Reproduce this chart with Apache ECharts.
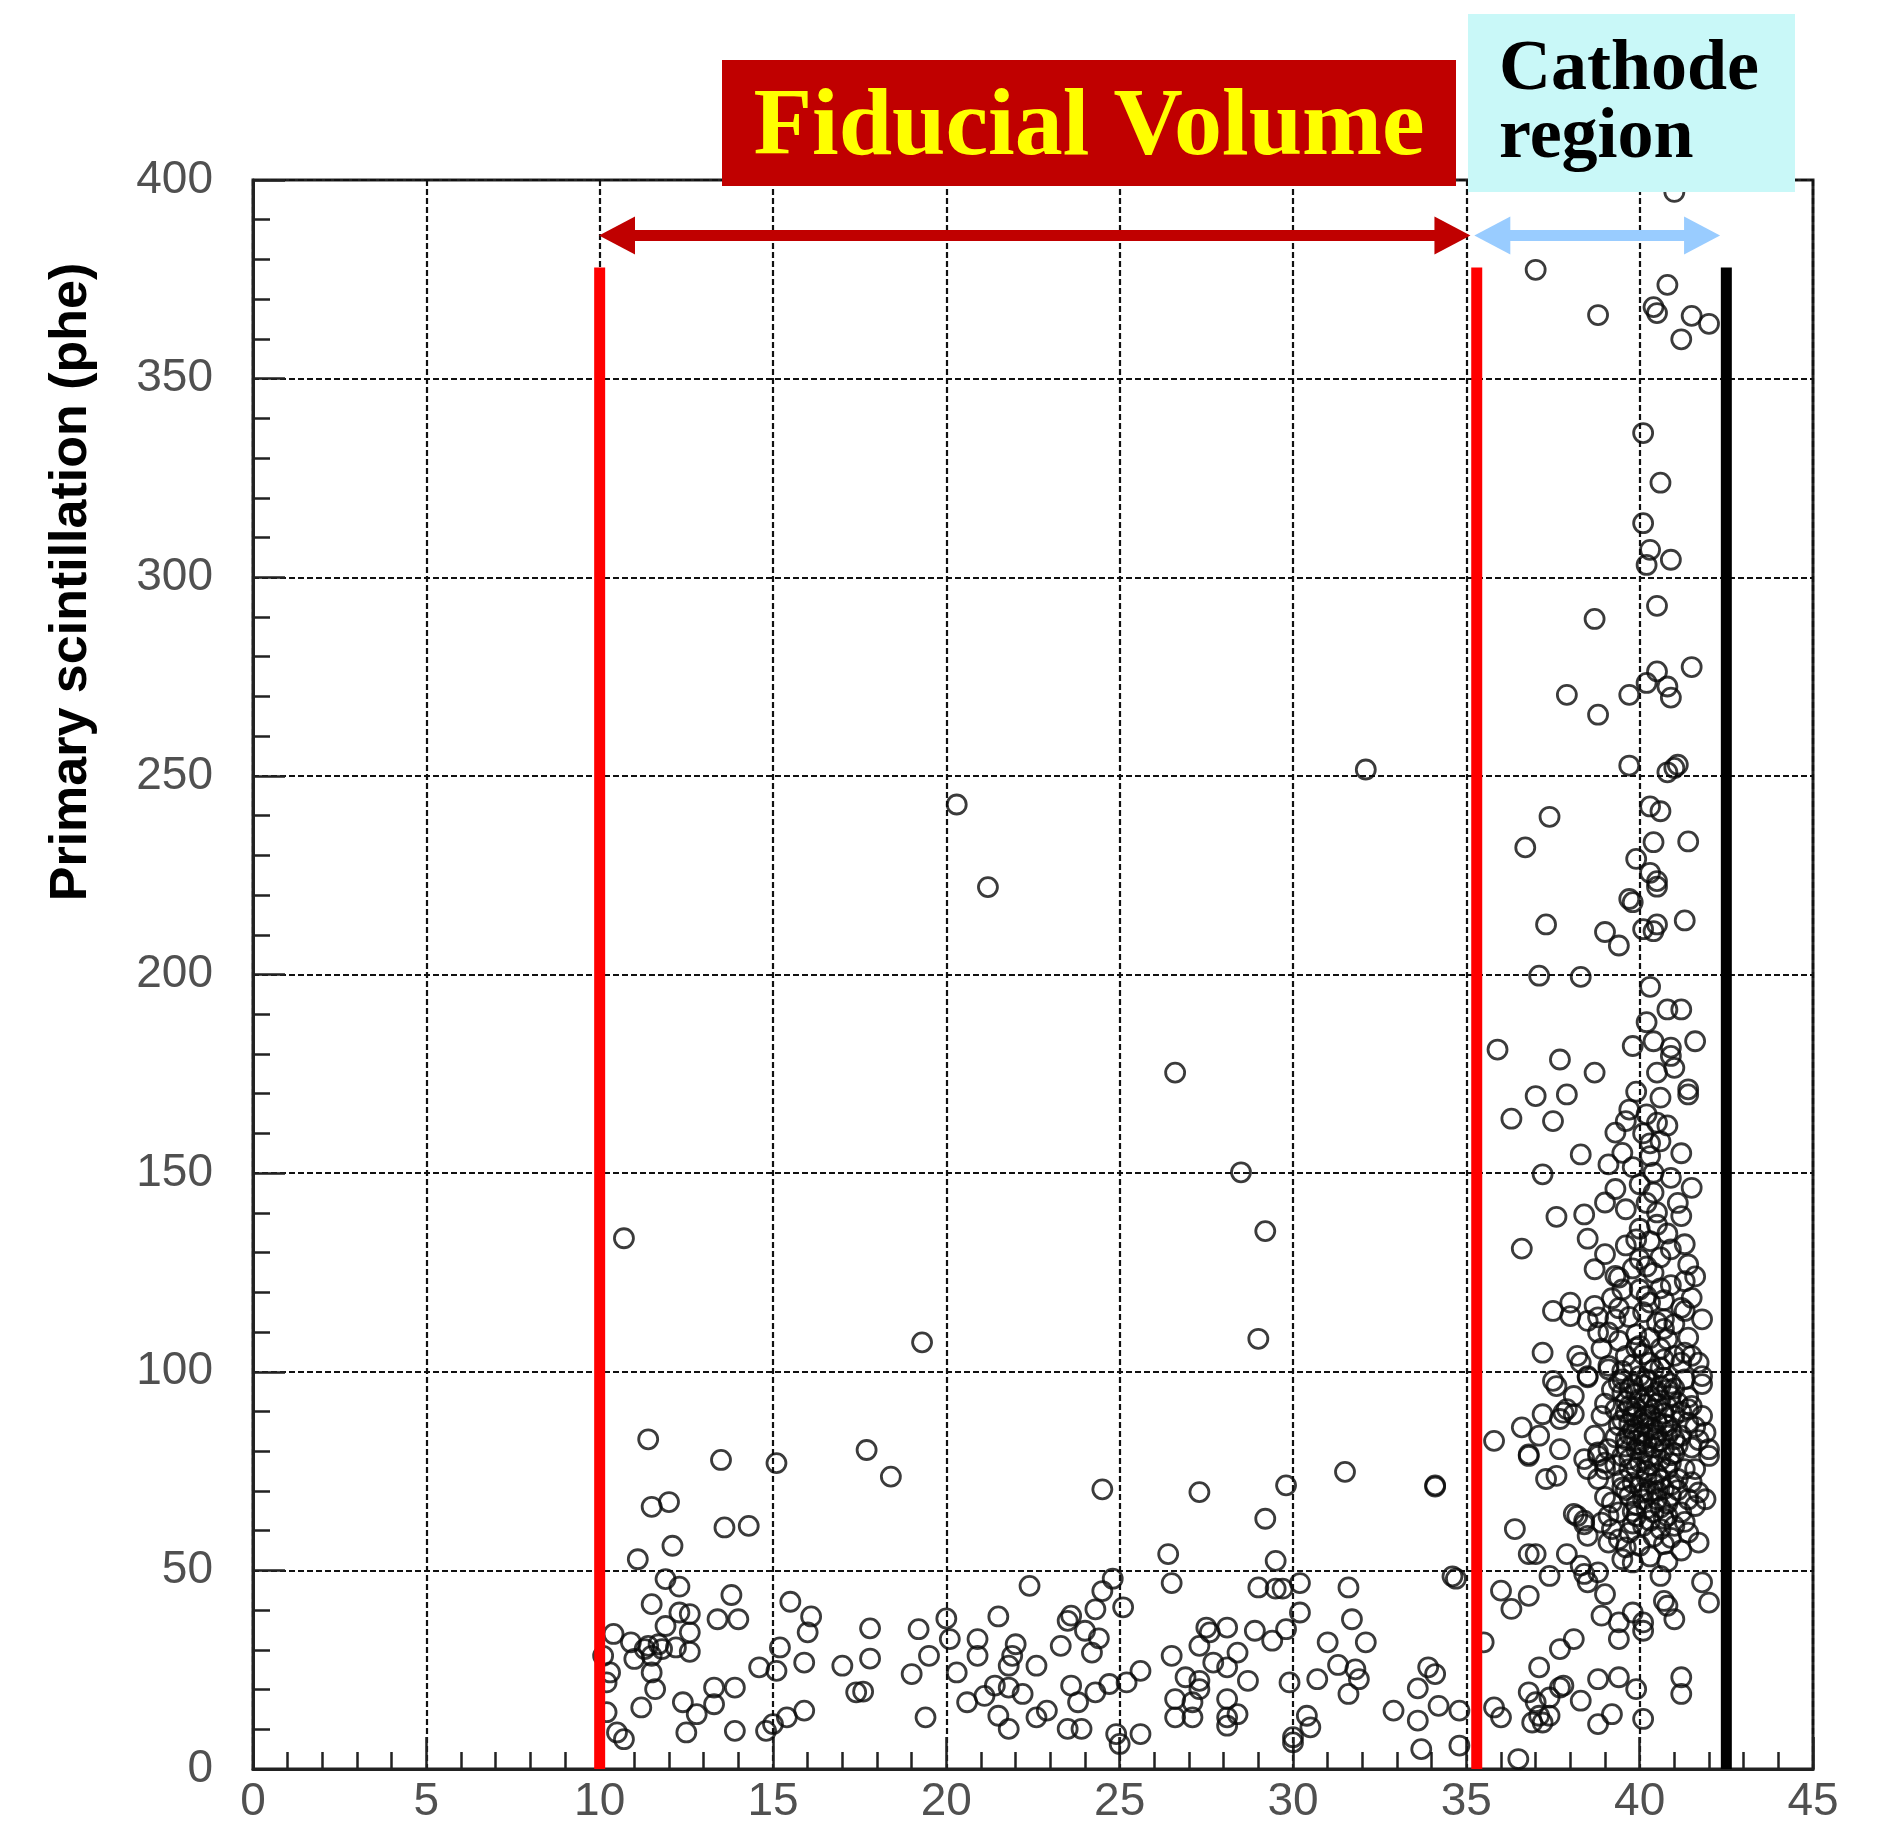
<!DOCTYPE html>
<html>
<head>
<meta charset="utf-8">
<script src="https://cdn.jsdelivr.net/npm/echarts@6/dist/echarts.min.js"></script>
<style>html,body{margin:0;padding:0;background:#fff;}#c{width:1880px;height:1825px;}</style>
</head>
<body>
<div id="c"></div>
<script>
// ---- axis setup ----
const xTicks = [0, 5, 10, 15, 20, 25, 30, 35, 40, 45];
const yTicks = [0, 50, 100, 150, 200, 250, 300, 350, 400];
const yTitle = 'Primary scintillation (phe)';

// ---- region boundaries (x in axis units, y in phe) ----
const fiducialBounds = [10, 35.3];
const cathodeEdge = 42.5;
const boundaryTop = 378;
const arrowY = 386;
// arrow shafts (heads extend beyond these ends)
const fiducialArrow = [10.5, 34.6];
const cathodeArrow = [35.75, 41.8];

// ---- events inside the fiducial volume [x, phe] ----
const fiducialPoints = [
  [11.4,83.0],[13.5,77.8],[15.1,77.0],[17.7,80.3],[18.4,73.6],[11.5,66.0],[12.0,67.2],[13.6,60.8],[14.3,61.2],
  [12.1,56.2],[11.1,52.8],[11.9,47.8],[12.3,45.9],[13.8,43.8],[11.5,41.5],[15.5,42.1],[16.1,38.4],[16.0,34.4],
  [13.4,37.7],[14.0,37.7],[12.3,39.4],[12.6,39.0],[11.9,36.0],[12.6,34.4],[10.4,34.0],[10.9,31.9],[11.4,31.0],
  [11.7,31.4],[12.2,30.6],[12.6,29.5],[11.0,27.7],[11.5,28.5],[11.5,24.3],[10.1,28.5],[15.2,30.6],[14.6,25.6],
  [15.1,24.7],[15.9,26.8],[17.8,35.4],[17.8,27.8],[17.0,26.0],[19.2,35.2],[20.0,37.9],[20.1,32.7],[19.5,28.5],
  [19.0,23.9],[20.3,24.3],[20.9,32.7],[20.9,28.5],[21.5,38.4],[22.0,31.4],[21.9,28.5],[21.8,26.0],[22.4,46.1],
  [10.2,21.8],[11.6,20.1],[13.3,20.5],[13.9,20.5],[12.4,16.8],[13.3,16.3],[12.8,13.8],[11.2,15.5],[12.5,9.2],
  [13.9,9.6],[14.8,9.6],[15.0,11.3],[15.4,13.0],[15.9,14.7],[10.5,9.2],[10.7,7.5],[17.4,19.3],[17.6,19.5],
  [19.4,13.0],[20.6,16.8],[21.1,18.4],[21.4,21.0],[21.8,20.5],[22.2,18.9],[21.5,13.4],[21.8,10.1],[10.2,14.3],
  [11.3,30.2],[11.8,30.2],[10.3,24.3],
  [24.5,70.4],[27.3,69.7],[29.8,71.4],[31.5,74.8],[34.1,71.4],[34.1,71.1],[29.2,63.0],[26.4,54.1],[29.5,52.4],
  [24.8,47.9],[26.5,46.8],[29.0,45.7],[29.5,45.4],[29.7,45.4],[30.2,46.8],[31.6,45.7],[34.6,48.5],[34.7,47.9],
  [24.5,44.8],[25.1,40.7],[24.3,40.2],[23.6,38.6],[23.5,37.3],[24.0,34.8],[24.4,32.9],[24.2,29.3],[23.3,31.0],
  [22.6,26.0],[23.6,21.0],[23.8,16.8],[24.3,19.3],[24.7,21.4],[25.2,21.8],[25.6,24.7],[22.6,13.0],[22.9,14.7],
  [23.5,10.1],[23.9,10.1],[24.9,8.8],[25.0,6.3],[25.6,8.8],[27.5,35.6],[28.1,35.6],[27.6,34.4],[28.9,34.8],
  [29.4,32.3],[29.8,35.2],[30.2,39.4],[27.3,31.0],[28.4,29.3],[26.5,28.5],[27.7,26.8],[28.1,25.6],[28.7,22.2],
  [26.9,23.1],[27.3,22.2],[27.3,20.1],[26.6,17.6],[27.1,16.8],[26.6,13.0],[27.1,13.0],[28.1,17.6],[28.1,13.0],
  [28.4,13.8],[28.1,10.9],[29.9,21.8],[30.0,8.0],[30.0,6.7],[30.4,13.4],[30.5,10.5],[30.7,22.6],[31.0,31.9],
  [31.3,26.2],[31.7,37.7],[31.8,25.1],[31.9,22.6],[31.6,18.9],[32.1,31.9],[32.9,14.7],[33.6,20.3],[33.9,25.6],
  [34.1,23.9],[33.6,12.2],[34.2,15.9],[34.8,14.7],[33.7,5.0],[34.8,5.9],
  [10.7,133.6],[19.3,107.4],[20.3,242.8],[21.2,222.0],[26.6,175.3],[28.5,150.2],[29.2,135.4],[29.0,108.3],[32.1,251.6]
];

// ---- events in the cathode region [x, phe] ----
const cathodePoints = [
  [37.0,377.4],[40.8,373.6],[38.8,366.0],[40.4,368.0],[40.5,366.5],[41.5,365.8],[42.0,363.8],[41.2,359.9],[40.1,336.3],
  [40.6,323.8],[40.1,313.6],[40.3,306.9],[40.9,304.4],[40.2,303.1],[40.5,292.8],[38.7,289.5],[40.5,276.3],[41.5,277.4],
  [37.9,270.4],[39.7,270.4],[40.2,273.4],[40.8,272.5],[40.9,269.7],[41.0,397.0],
  [38.8,265.4],[39.7,252.6],[40.8,250.9],[41.0,252.0],[41.1,252.8],[40.3,242.3],[40.6,241.1],[37.4,239.7],[36.7,232.0],
  [40.4,233.3],[41.4,233.5],[39.9,229.1],[40.3,225.6],[40.5,223.5],[40.5,222.1],[39.7,219.0],[39.8,218.2],[37.3,212.6],
  [39.0,210.7],[39.4,207.3],[40.1,211.4],[40.5,212.6],[40.4,210.9],[41.3,213.6],[37.1,199.7],[38.3,199.4],[40.3,196.9],
  [40.8,191.2],[41.2,191.2],[35.9,181.1],[39.8,182.0],[40.4,183.2],[40.9,181.6],[41.6,183.2],[40.9,179.5],[37.7,178.6],
  [38.7,175.3],[40.5,175.3],[37.0,169.4],[37.9,169.8],[41.4,171.1],[41.4,169.8],[40.6,169.0],
  [36.3,163.7],[37.5,163.1],[38.3,154.7],[39.3,160.2],[39.5,155.1],[39.7,166.0],[39.6,163.1],[40.2,164.8],[40.5,162.7],
  [39.1,152.2],[40.3,154.3],[40.4,150.1],[40.0,147.2],[37.2,149.7],[41.5,146.3],[40.4,145.1],[40.5,140.1],[39.0,142.6],
  [39.6,140.9],[38.4,139.6],[37.6,139.0],[41.2,139.2],[38.5,133.5],[39.9,133.3],[40.3,132.9],[36.6,131.0],[39.0,129.6],
  [40.9,130.8],[41.3,132.1],[41.4,127.0],[38.7,125.8],[40.0,128.3],[40.4,124.9],[39.3,124.1],[39.5,120.7],[40.0,120.7],
  [41.3,122.8],[41.2,116.1],[41.3,115.3],[37.5,115.3],[38.0,117.4],[38.0,114.0],[38.7,116.6],[38.8,113.7],[38.5,112.8],
  [39.3,113.2],[40.3,117.4],[40.5,112.4],[40.7,113.2],[41.8,113.2],[38.8,109.9],[39.1,109.9],[39.4,107.8],[39.9,109.4],
  [40.8,108.2],[41.4,108.6],[37.2,104.8],[38.2,104.0],[38.3,102.3],[39.1,101.5],[39.6,104.0],[40.1,104.4],[40.3,102.3],
  [41.0,104.0],[41.3,104.8],[41.7,102.3],[37.5,97.7],[38.5,98.9],[39.5,98.1],[40.0,98.9],[40.7,98.5],[41.3,98.1],
  [41.8,98.9],[41.8,96.9],[37.6,96.4],[38.1,93.9],[37.9,90.6],[38.1,89.3],[37.2,89.3],[36.6,86.0],[37.7,88.1],
  [38.9,88.9],[35.8,82.6],[36.8,79.2],[37.7,80.5],[37.1,83.9],[38.7,83.9],[38.8,79.7],[37.3,73.0],[37.6,73.8],
  [38.8,73.0],[41.8,88.9],[41.9,84.7],[42.0,78.8],[41.5,80.9],[41.4,90.6],
  [39.4,123.7],[38.5,98.6],[39.1,100.6],[39.4,97.3],[39.7,95.6],[40.7,103.1],[41.2,102.3],[41.5,104.0],[40.2,98.1],
  [40.6,96.4],[40.9,93.9],[41.1,92.2],[41.5,91.4],[37.8,89.7],[39.5,94.8],[39.7,91.4],[40.0,93.1],[40.3,93.9],
  [40.4,90.6],[39.8,88.9],[40.1,88.1],[40.5,87.2],[39.8,85.5],[40.1,83.9],[40.4,85.5],[41.0,88.9],[41.4,87.2],
  [40.8,83.9],[41.2,83.9],[42.0,80.5],[38.8,78.8],[39.1,80.5],[39.5,78.8],[39.9,80.5],[40.3,78.8],[40.7,80.5],
  [38.5,75.5],[39.0,75.5],[39.7,75.5],[40.2,75.0],[40.8,75.5],[41.3,75.5],[41.6,75.5],
  [39.2,67.1],[39.7,68.8],[40.1,69.6],[40.5,67.9],[40.9,68.8],[41.4,67.9],[41.7,69.6],[41.9,67.9],[39.1,63.7],
  [39.4,64.6],[39.9,63.7],[40.4,64.6],[40.8,63.7],[41.2,64.6],[41.6,66.2],[38.1,64.2],[38.4,62.5],[38.5,58.7],
  [39.2,60.4],[39.7,59.5],[40.1,61.2],[40.6,60.4],[41.0,61.2],[41.4,59.5],[41.7,57.0],[39.6,55.8],[40.0,56.2],
  [40.7,56.6],[39.5,52.8],[39.8,52.0],[37.0,54.1],[37.9,54.1],[37.4,48.6],[38.3,51.2],[38.4,49.1],[38.8,49.5],
  [38.5,47.0],[39.0,44.0],[40.6,48.6],[41.8,47.0],[42.0,41.9],[40.7,42.3],[40.8,41.1],[41.0,37.7],[38.9,38.6],
  [39.4,36.9],[39.4,32.7],[39.8,39.4],[40.1,36.9],[40.1,34.8],[36.8,43.6],[37.7,30.2],[38.1,32.7],[37.1,25.6],
  [37.8,21.0],[38.8,22.6],[39.4,23.1],[41.2,23.1],
  [36.4,60.4],[36.8,78.8],[38.4,78.0],[39.0,77.1],[38.2,63.7],[38.4,61.6],[36.8,54.1],[36.0,44.9],[36.3,40.3],
  [35.5,31.9],[36.8,19.3],[37.0,16.8],[37.4,18.0],[37.7,20.5],[37.1,13.4],[36.9,11.7],[37.2,11.7],[37.4,13.4],
  [38.3,17.2],[38.8,11.3],[39.2,13.8],[40.1,12.6],[41.2,18.9],[36.0,13.0],[36.5,2.5],[35.8,15.5],[39.9,20.1],
  [39.8,72.0],[40.0,71.0],[40.2,73.5],[40.4,71.8],[40.6,72.8],[40.9,71.5],[39.6,70.2],[40.3,69.8],[39.9,66.5],
  [40.6,65.8],[40.2,82.0],[40.6,82.5],[39.9,82.8],[40.3,86.0],[39.7,87.0],[40.7,89.5],[40.2,91.8],[39.9,94.5],
  [40.5,95.0],[40.1,96.6],[40.8,86.4],[40.0,77.2],[40.6,77.8],[39.6,83.0],[41.0,79.5],[40.4,81.0],[39.4,86.5],
  [39.3,90.5],[40.9,97.0],[40.4,100.5],[39.8,101.8],[40.6,105.8],[40.0,106.5],
  [40.1,115.0],[40.2,119.0],[40.6,121.0],[40.2,126.5],[40.7,118.0],[40.0,136.0],[40.5,137.0],[40.2,142.5],
  [40.3,157.5],[40.1,160.0],[40.6,158.0],
  [39.5,72.8],[39.7,78.0],[39.9,75.8],[40.1,79.8],[40.3,76.5],[40.5,74.2],[40.7,70.5],[40.9,77.0],[41.1,73.0],
  [39.6,89.8],[39.9,91.0],[40.1,86.8],[40.3,89.0],[40.6,92.8],[40.8,95.5],[39.6,81.2],[40.0,84.6],[40.5,84.0],
  [40.9,85.2],[41.1,81.5],[39.8,96.8],[40.3,97.6],[40.6,101.0],[39.5,100.2],[40.1,67.8],[40.3,62.5],[39.8,61.8],
  [40.7,63.0],[39.4,57.8],[40.4,58.5],
  [39.0,92.0],[39.2,95.5],[39.3,83.5],[39.5,87.8],[39.6,92.6],[39.7,84.2],[39.9,89.4],[40.0,81.8],[40.2,88.9],
  [40.4,83.2],[40.5,92.0],[40.7,86.9],[40.8,91.2],[41.0,95.8],[41.2,89.9],[41.4,93.6],[41.6,86.1],[41.7,82.8],
  [41.0,83.0],[40.9,79.0],[39.3,76.5],[39.5,70.8],[39.8,64.8],[40.2,65.5],[40.5,70.0],[40.8,66.8],[41.1,70.2],
  [41.3,62.2],[41.5,72.2],[39.0,68.5],[38.9,62.0],[39.1,57.0],[40.9,58.2],[41.2,55.0],[40.3,53.5],[40.8,52.2],
  [39.9,106.0],[40.3,108.5],[40.7,110.8],[41.0,112.0],[41.5,118.6],[39.7,113.8],[39.2,118.5],[40.9,121.8],[41.6,124.0],
  [39.8,126.0],[40.6,128.8],[39.6,131.8],[40.8,134.8],[41.1,142.5],[39.3,146.0],[40.9,148.8],[39.8,151.5],[41.2,155.0],
  [40.8,162.0],[39.9,170.5],[41.0,176.5],[40.2,188.0],[39.4,116.0],[38.9,105.8]
];

const chart = echarts.init(document.getElementById('c'), null, {renderer: 'canvas'});

const labelFont = {fontFamily: '"Liberation Sans", Arial, sans-serif', fontSize: 46, color: '#505050'};
const dash = [6, 3];

function vline(x, color) {
  return {
    type: 'line', data: [[x, 0], [x, boundaryTop]], symbol: 'none', silent: true, z: 4,
    lineStyle: {color: color, width: 11}, animation: false
  };
}
function arrow(ends, color) {
  return {
    type: 'scatter', data: [], silent: true, z: 5, animation: false,
    markLine: {
      silent: true, animation: false,
      symbol: ['triangle', 'triangle'], symbolSize: [38, 36],
      label: {show: false},
      lineStyle: {color: color, width: 11, type: 'solid'},
      data: [[{coord: [ends[0], arrowY]}, {coord: [ends[1], arrowY]}]]
    }
  };
}

const circleStyle = {color: 'rgba(0,0,0,0)', borderColor: '#0a0a0a', borderWidth: 2.8};

chart.setOption({
  animation: false,
  backgroundColor: '#fff',
  grid: {left: 253, top: 180, right: 67, bottom: 55, show: true, borderColor: '#222', borderWidth: 3},
  xAxis: {
    type: 'value', min: xTicks[0], max: xTicks[xTicks.length - 1], interval: 5,
    axisLine: {lineStyle: {color: '#222', width: 3}},
    axisTick: {inside: true, length: 32, lineStyle: {color: '#222', width: 2.5}},
    minorTick: {show: true, splitNumber: 5, length: 17, lineStyle: {color: '#222', width: 2.5}},
    splitLine: {show: true, lineStyle: {type: dash, color: '#111', width: 2.2}},
    axisLabel: Object.assign({margin: 10}, labelFont)
  },
  yAxis: {
    type: 'value', min: yTicks[0], max: yTicks[yTicks.length - 1], interval: 50,
    axisLine: {lineStyle: {color: '#222', width: 3}},
    axisTick: {inside: true, length: 32, lineStyle: {color: '#222', width: 2.5}},
    minorTick: {show: true, splitNumber: 5, length: 17, lineStyle: {color: '#222', width: 2.5}},
    splitLine: {show: true, lineStyle: {type: dash, color: '#111', width: 2.2}},
    axisLabel: Object.assign({margin: 40}, labelFont)
  },
  series: [
    {type: 'scatter', data: fiducialPoints, symbol: 'circle', symbolSize: 19, itemStyle: circleStyle, z: 3, silent: true},
    {type: 'scatter', data: cathodePoints, symbol: 'circle', symbolSize: 19, itemStyle: circleStyle, z: 3, silent: true},
    vline(fiducialBounds[0], '#ff0000'),
    vline(fiducialBounds[1], '#ff0000'),
    vline(cathodeEdge, '#000000'),
    arrow(fiducialArrow, '#c00000'),
    arrow(cathodeArrow, '#99ccff')
  ],
  graphic: [
    {type: 'rect', z: 100, shape: {x: 722, y: 60, width: 734, height: 126}, style: {fill: '#c00000'}},
    {type: 'text', z: 101, x: 1089, y: 129, style: {text: 'Fiducial Volume', align: 'center', verticalAlign: 'middle',
      font: 'bold 96px "Liberation Serif", "Times New Roman", serif', fill: '#ffff00'}},
    {type: 'rect', z: 100, shape: {x: 1468, y: 14, width: 327, height: 178}, style: {fill: '#c9f8f8'}},
    {type: 'text', z: 101, x: 1499, y: 70, style: {text: 'Cathode', align: 'left', verticalAlign: 'middle',
      font: 'bold 72px "Liberation Serif", "Times New Roman", serif', fill: '#000'}},
    {type: 'text', z: 101, x: 1499, y: 138, style: {text: 'region', align: 'left', verticalAlign: 'middle',
      font: 'bold 72px "Liberation Serif", "Times New Roman", serif', fill: '#000'}},
    {type: 'text', z: 101, x: 72, y: 582, rotation: Math.PI / 2, style: {text: yTitle, align: 'center', verticalAlign: 'middle',
      font: 'bold 52px "Liberation Sans", Arial, sans-serif', fill: '#000'}}
  ]
});
</script>
</body>
</html>
